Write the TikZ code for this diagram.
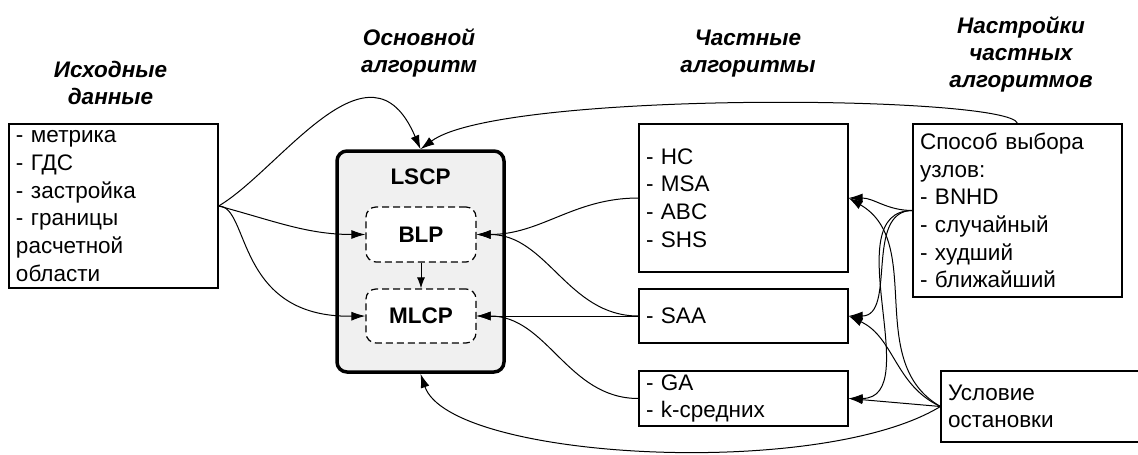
\documentclass[tikz,border=0pt]{standalone}
\usepackage{fontspec}
\setmainfont{Liberation Sans}
\usetikzlibrary{arrows.meta}
\newcommand\bodyfont{\fontsize{22.5}{27.7}\selectfont}
\tikzset{
    heading/.style={font=\fontsize{22.5}{27}\selectfont\bfseries\itshape, align=center},
    listbox/.style={draw, line width=1.2pt, font=\bodyfont, align=left, inner xsep=7pt, inner ysep=2pt},
    mainbox/.style={draw, line width=3.5pt, rounded corners=10pt, fill=gray!12},
    subbox/.style={draw, line width=1.2pt, dash pattern=on 7pt off 4pt, rounded corners=10pt, fill=white, font=\bodyfont\bfseries, minimum width=110pt},
    link/.style={-{Latex[length=14pt,width=9pt]}, line width=1pt},
    shortlink/.style={-{Latex[length=11pt,width=8pt]}, line width=1pt},
}
\begin{document}
\begin{tikzpicture}[x=1pt,y=1pt]
\useasboundingbox (0,0) rectangle (1138,-455);
\clip (0,0) rectangle (1138,-455);
\node[heading] (hinit) at (110.5,-83) {Исходные\\данные};
\node[heading] (hmain) at (419,-53) {Основной\\алгоритм};
\node[heading] (hpart) at (748,-54) {Частные\\алгоритмы};
\node[heading] (hset) at (1021,-54) {Настройки\\частных\\алгоритмов};
\node[listbox, text width=195pt, minimum height=164pt] (init) at (113.5,-206) {- метрика\\- ГДС\\- застройка\\- границы\\расчетной\\области};
\node[mainbox, minimum width=167pt, minimum height=221pt] (lscp) at (420.5,-261.5) {};
\node[font=\bodyfont\bfseries] (lscptext) at (420.5,-177) {LSCP};
\node[subbox, minimum height=55pt] (blp) at (421,-234.5) {BLP};
\node[subbox, minimum height=54pt] (mlcp) at (421,-316) {MLCP};
\node[listbox, text width=195pt, minimum height=148pt] (pa) at (743.5,-198) {- HC\\- MSA\\- ABC\\- SHS};
\node[listbox, text width=195pt, minimum height=54pt] (saa) at (743.5,-316) {- SAA};
\node[listbox, text width=195pt, minimum height=55pt] (ga) at (743.5,-398.5) {- GA\\- k-средних};
\node[listbox, text width=195pt, minimum height=173pt] (sel) at (1017.5,-210.5) {Способ выбора\\узлов:\\- BNHD\\- случайный\\- худший\\- ближайший};
\node[listbox, text width=195pt, minimum height=71pt] (stop) at (1045.5,-406.5) {Условие\\остановки};
\draw[link] (init.east) .. controls (280,-170) and (370,-30) .. (lscp.north);
\draw[link] (init.east) to[out=-15,in=180] (blp.west);
\draw[link] (init.east) .. controls (250,-206) and (235,-318) .. (mlcp.west);
\draw[shortlink] (blp) -- (mlcp);
\draw[link] (pa.west) to[out=180,in=0] (blp.east);
\draw[link] (saa.west) to[out=180,in=0] (blp.east);
\draw[link] (saa.west) -- (mlcp.east);
\draw[link] (ga.west) to[out=180,in=0] (mlcp.east);
\draw[link] (sel.north) .. controls (1010,-95) and (500,-90) .. (lscp.north);
\draw[link] (stop.west) .. controls (820,-480) and (450,-460) .. (lscp.south);
\draw[link] (sel.west) to[out=180,in=0] (pa.east);
\draw[link] (sel.west) to[out=180,in=0] (saa.east);
\draw[link] (sel.west) to[out=180,in=0] (ga.east);
\draw[link] (stop.west) to[out=150,in=-30] (pa.east);
\draw[link] (stop.west) to[out=155,in=-25] (saa.east);
\draw[link] (stop.west) to[out=175,in=-5] (ga.east);
\end{tikzpicture}
\end{document}
